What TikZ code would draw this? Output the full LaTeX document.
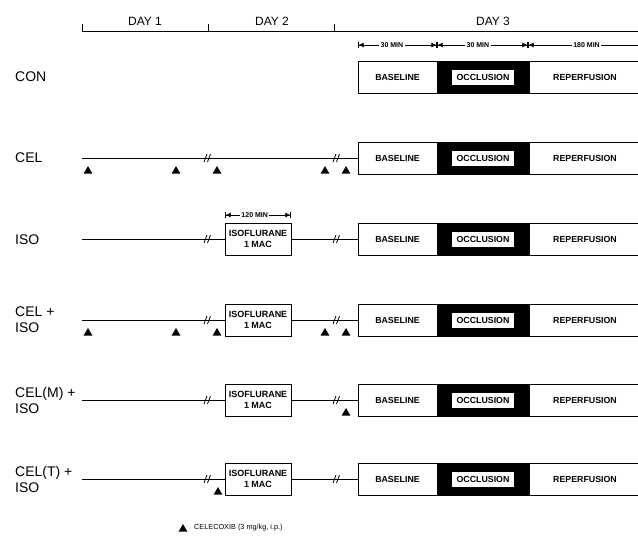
\documentclass[tikz,border=0pt]{standalone}
\usepackage{fontspec}
\setmainfont{Liberation Sans}
\usetikzlibrary{arrows.meta,shapes.geometric}
\begin{document}
\begin{tikzpicture}[x=1pt,y=-1pt,
  every node/.style={inner sep=0pt},
  rowlabel/.style={anchor=west,align=left,font=\fontsize{14}{16}\selectfont},
  daylabel/.style={font=\fontsize{12}{14}\selectfont},
  stagebox/.style={draw,line width=1pt,minimum height=32pt,font=\bfseries\fontsize{8.8}{10}\selectfont},
  occbox/.style={fill=black,draw=black,line width=1pt,minimum height=32pt,minimum width=92pt},
  occlabel/.style={fill=white,minimum width=62pt,minimum height=15pt,font=\bfseries\fontsize{8.8}{10}\selectfont},
  isobox/.style={draw,line width=1pt,minimum width=66pt,minimum height=32pt,align=center,font=\bfseries\fontsize{9}{10.5}\selectfont},
  tline/.style={line width=0.9pt},
  brk/.style={line width=0.8pt},
  tri/.style={regular polygon,regular polygon sides=3,fill=black,minimum size=10pt},
  seg/.style={line width=0.7pt,{Bar[width=6pt]Latex[length=5pt,width=5pt]}-{Latex[length=5pt,width=5pt]Bar[width=6pt]}},
  seglast/.style={line width=0.7pt,{Bar[width=6pt]Latex[length=5pt,width=5pt]}-},
  seglabel/.style={fill=white,inner xsep=1.5pt,font=\bfseries\fontsize{7}{8}\selectfont},
]
\useasboundingbox (0,0) rectangle (638,538);

% header
\coordinate (h0) at (82,31);
\coordinate (h1) at (208,31);
\coordinate (h2) at (334,31);
\coordinate (h3) at (645,31);
\draw[line width=1pt] ([yshift=7pt]h0) -- (h0) -- (h3);
\draw[line width=1pt] (h1) -- ([yshift=7pt]h1);
\draw[line width=1pt] (h2) -- ([yshift=7pt]h2);
\node[daylabel] (d1) at (145,21) {DAY 1};
\node[daylabel] (d2) at (272,21) {DAY 2};
\node[daylabel] (d3) at (493,21) {DAY 3};

% time scale
\coordinate (t0) at (358,45);
\coordinate (t1) at (437,45);
\coordinate (t2) at (528,45);
\coordinate (t3) at (650,45);
\draw[seg] (t0) -- node[seglabel,pos=0.43] (tl1) {30 MIN} (t1);
\draw[seg] (t1) -- node[seglabel,pos=0.45] (tl2) {30 MIN} (t2);
\draw[seglast] (t2) -- node[seglabel,pos=0.48] (tl3) {180 MIN} (t3);

% row labels
\node[rowlabel] (lcon) at (15,77) {CON};
\node[rowlabel] (lcel) at (15,158) {CEL};
\node[rowlabel] (liso) at (15,240) {ISO};
\node[rowlabel] (lci) at (15,320) {CEL +\\ISO};
\node[rowlabel] (lcm) at (15,400) {CEL(M) +\\ISO};
\node[rowlabel] (lct) at (15,479) {CEL(T) +\\ISO};

% day-3 stage boxes
\foreach \r/\y in {con/77,cel/158,iso/239,ci/320,cm/400,ct/479}{
  \node[stagebox,minimum width=79pt] (b\r) at (397.5,\y) {BASELINE};
  \node[occbox] (o\r) at (483,\y) {};
  \node[occlabel] (ol\r) at (483,\y) {OCCLUSION};
  \node[stagebox,minimum width=120pt] (p\r) at (589,\y) {};
  \node[font=\bfseries\fontsize{8.8}{10}\selectfont] (pl\r) at (585,\y) {REPERFUSION};
}

% timelines
\foreach \r/\y in {cel/158,iso/239,ci/320,cm/400,ct/479}{
  \coordinate (s\r) at (82,\y);
}
\draw[tline] (scel) -- (bcel.west);
\foreach \r/\y in {iso/239,ci/320,cm/400,ct/479}{
  \node[isobox] (i\r) at (258,\y) {ISOFLURANE\\1 MAC};
  \draw[tline] (s\r) -- (i\r.west);
  \draw[tline] (i\r.east) -- (b\r.west);
}

% break marks
\foreach \y in {158,239,320,400,479}{
  \foreach \x in {206,335}{
    \draw[brk] (\x-2,\y+4) -- (\x+1,\y-4);
    \draw[brk] (\x+1.5,\y+4) -- (\x+4.5,\y-4);
  }
}

% 120 min
\coordinate (m0) at (225,215);
\coordinate (m1) at (291,215);
\draw[seg] (m0) -- node[seglabel,pos=0.45] (ml) {120 MIN} (m1);

% celecoxib triangles
\foreach \x in {88,176,217,325,346}{
  \node[tri] at (\x,171) {};
  \node[tri] at (\x,333) {};
}
\node[tri] (tm) at (346,413) {};
\node[tri] (tt) at (218,492) {};

% legend
\node[tri] (lt) at (183,529) {};
\node[anchor=west,font=\fontsize{7.3}{8}\selectfont] (lx) at (194,528) {CELECOXIB (3 mg/kg, i.p.)};
\end{tikzpicture}
\end{document}
